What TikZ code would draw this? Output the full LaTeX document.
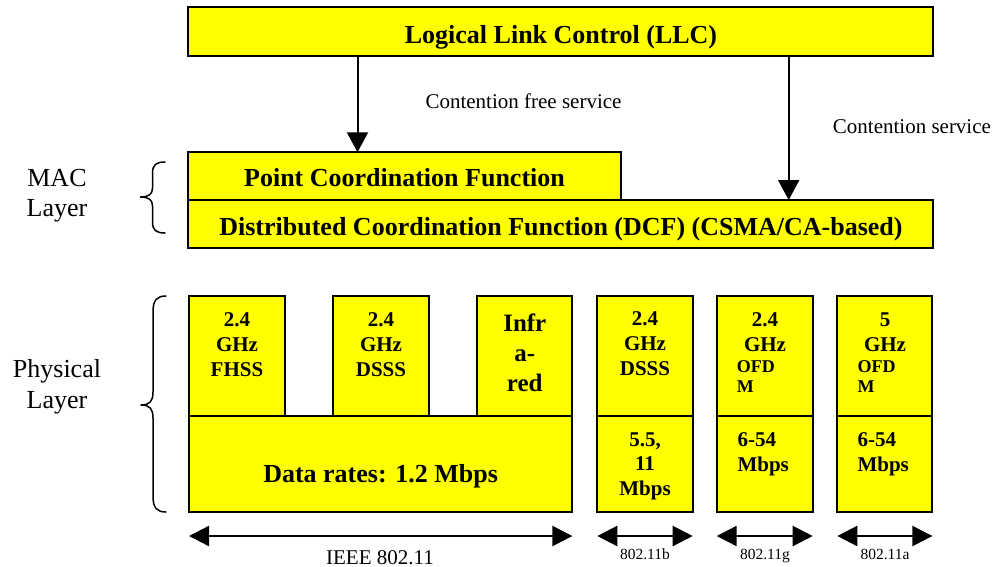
\documentclass[tikz,border=0pt]{standalone}
\usepackage{fontspec}
\setmainfont{Liberation Serif}
\usetikzlibrary{arrows.meta}
\definecolor{layeryellow}{RGB}{255,255,0}
\tikzset{
  layerbox/.style={draw=black, line width=2pt, fill=layeryellow,
    inner sep=0pt, outer sep=0pt, anchor=north west},
  bigbold/.style={font=\fontsize{26}{30}\selectfont\bfseries, inner sep=0pt},
  midbold/.style={font=\fontsize{21}{24.6}\selectfont\bfseries, inner sep=0pt, align=center},
  irbold/.style={font=\fontsize{25}{30}\selectfont\bfseries, inner sep=0pt, align=center},
  smallbold/.style={font=\fontsize{18}{20}\selectfont\bfseries, inner sep=0pt, align=left},
  layername/.style={font=\fontsize{26}{30.6}\selectfont, inner sep=0pt, align=center},
  service/.style={font=\fontsize{21}{24}\selectfont, inner sep=0pt},
  stdname/.style={font=\fontsize{21}{24}\selectfont, inner sep=0pt},
  subname/.style={font=\fontsize{15.5}{18}\selectfont, inner sep=0pt},
  downarrow/.style={line width=2pt, -{Triangle[length=20pt, width=21pt]}},
  spanarrow/.style={line width=2.3pt, {Triangle[length=20pt, width=20pt]}-{Triangle[length=20pt, width=20pt]}},
  bracepath/.style={line width=1.5pt, line cap=round, line join=round}
}
\begin{document}
\begin{tikzpicture}[x=1pt, y=-1pt]
\useasboundingbox (0,0) rectangle (995,567);

% ---------------- MAC sublayer ----------------
\node[layerbox, minimum width=745pt, minimum height=48.4pt] (llc) at (188,7.3) {};
\node[layerbox, minimum width=432.7pt, minimum height=47.7pt] (pcf) at (188,152.3) {};
\node[layerbox, minimum width=744.7pt, minimum height=47.7pt] (dcf) at (188,200) {};

\node[bigbold, anchor=base] (llctxt) at (561,43.3) {Logical Link Control (LLC)};
\node[bigbold, anchor=base] (pcftxt) at (404.5,186.7) {Point Coordination Function};
\node[bigbold, anchor=base] (dcftxt) at (561,235) {Distributed Coordination Function (DCF) (CSMA/CA-based)};

% service arrows
\coordinate (freex) at (357.5,0);
\coordinate (contx) at (788.7,0);
\draw[downarrow] (freex |- llc.south) -- (freex |- pcf.north);
\draw[downarrow] (contx |- llc.south) -- (contx |- dcf.north);
\node[service, anchor=base] (freelbl) at (523.5,108.3) {Contention free service};
\node[service, anchor=base west] (contlbl) at (832.7,133) {Contention service};

% layer names and braces (multi-line text is placed by its last baseline)
\node[layername, anchor=base] (maclbl) at (57,216.7) {MAC\\Layer};
\draw[bracepath] (165,162) .. controls (156,162) and (152.5,165) .. (152.5,173)
  -- (152.5,188) .. controls (152.5,194) and (149,197) .. (140.5,197)
  .. controls (149,197) and (152.5,200) .. (152.5,206)
  -- (152.5,222) .. controls (152.5,230) and (156,233) .. (165,233);

\node[layername, anchor=base] (phylbl) at (57,408.3) {Physical\\Layer};
\draw[bracepath] (166,296) .. controls (157,296) and (153,300) .. (153,312)
  -- (153,392) .. controls (153,401) and (150,405) .. (141,405)
  .. controls (150,405) and (153,409) .. (153,418)
  -- (153,496) .. controls (153,508) and (157,512) .. (166,512);

% ---------------- Physical layer: IEEE 802.11 ----------------
\node[layerbox, minimum width=96pt, minimum height=120pt] (fhss) at (189,295.7) {};
\node[layerbox, minimum width=96pt, minimum height=120pt] (dsss) at (333,295.7) {};
\node[layerbox, minimum width=95pt, minimum height=120pt] (infra) at (477.3,295.7) {};
\node[layerbox, minimum width=383.3pt, minimum height=96pt] (rate) at (189,415.7) {};

\node[midbold, anchor=base] (fhsstxt) at (237,376) {2.4\\GHz\\FHSS};
\node[midbold, anchor=base] (dssstxt) at (381,376) {2.4\\GHz\\DSSS};
\node[irbold, anchor=base] (infratxt) at (524.8,391.7) {Infr\\a-\\red};
\node[bigbold, anchor=base] (ratetxt) at (380.6,482) {Data rates: 1.2 Mbps};

% ---------------- Physical layer: 802.11b ----------------
\node[layerbox, minimum width=95.4pt, minimum height=120.3pt] (btop) at (597.3,295.7) {};
\node[layerbox, minimum width=95.4pt, minimum height=95.7pt] (bbot) at (597.3,416) {};
\node[midbold, anchor=base] (btoptxt) at (645,375) {2.4\\GHz\\DSSS};
\node[midbold, anchor=base, font=\fontsize{21}{24.2}\selectfont\bfseries] (bbottxt) at (645,495) {5.5,\\11\\Mbps};

% ---------------- Physical layer: 802.11g ----------------
\node[layerbox, minimum width=96pt, minimum height=120.3pt] (gtop) at (716.7,295.7) {};
\node[layerbox, minimum width=96pt, minimum height=95.7pt] (gbot) at (716.7,416) {};
\node[midbold, anchor=base] (gtoptxt) at (765,351) {2.4\\GHz};
\node[smallbold, anchor=base west] (gofdm) at (736.7,392.3) {OFD\\M};
\node[midbold, align=left, anchor=base west, font=\fontsize{21}{25.5}\selectfont\bfseries] (gbottxt) at (737.3,471.7) {6-54\\Mbps};

% ---------------- Physical layer: 802.11a ----------------
\node[layerbox, minimum width=95pt, minimum height=120.3pt] (atop) at (837.3,295.7) {};
\node[layerbox, minimum width=95pt, minimum height=95.7pt] (abot) at (837.3,416) {};
\node[midbold, anchor=base] (atoptxt) at (885,351) {5\\GHz};
\node[smallbold, anchor=base west] (aofdm) at (857.3,392.3) {OFD\\M};
\node[midbold, align=left, anchor=base west, font=\fontsize{21}{25.5}\selectfont\bfseries] (abottxt) at (857.3,471.7) {6-54\\Mbps};

% ---------------- standard spans ----------------
\coordinate (spany) at (0,536);
\draw[spanarrow] (spany -| rate.west) -- (spany -| rate.east);
\draw[spanarrow] (spany -| bbot.west) -- (spany -| bbot.east);
\draw[spanarrow] (spany -| gbot.west) -- (spany -| gbot.east);
\draw[spanarrow] (spany -| abot.west) -- (spany -| abot.east);
\node[stdname, anchor=base] (ieee) at (380,564) {IEEE 802.11};
\node[subname, anchor=base] (stdb) at (645,559) {802.11b};
\node[subname, anchor=base] (stdg) at (765,559) {802.11g};
\node[subname, anchor=base] (stda) at (885,559) {802.11a};
\end{tikzpicture}
\end{document}
